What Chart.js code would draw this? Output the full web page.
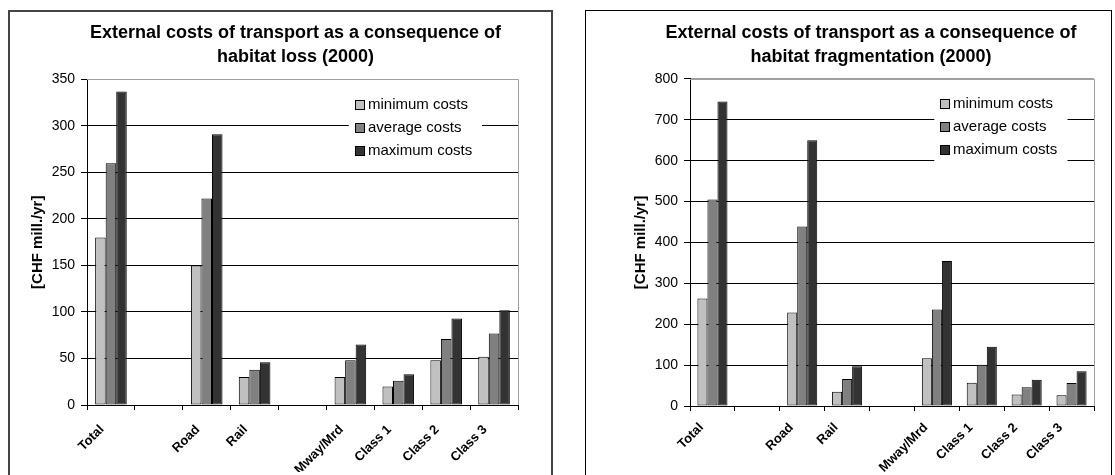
<!DOCTYPE html>
<html>
<head>
<meta charset="utf-8">
<title>External costs of transport - habitat loss and fragmentation</title>
<script src="https://cdn.jsdelivr.net/npm/chart.js@4.4.1/dist/chart.umd.min.js"></script>
<style>
  html, body { margin: 0; padding: 0; background: #fff; overflow: hidden; }
  body { width: 1115px; height: 475px; position: relative; }
  .frame { position: absolute; box-sizing: border-box; }
  #frameLoss { left: 8px; top: 10px; width: 545px; height: 490px; border: 2px solid #444; }
  #frameFrag { left: 585px; top: 10px; width: 527px; height: 490px; border: 1px solid #000; }
  canvas { position: absolute; }
  #lossChart { left: 20px; top: 12px; }
  #fragChart { left: 628px; top: 12px; }
</style>
</head>
<body>
<div class="frame" id="frameLoss"></div>
<div class="frame" id="frameFrag"></div>
<canvas id="lossChart" width="551" height="460"></canvas>
<canvas id="fragChart" width="486" height="460"></canvas>
<script>
// categories (blank slots separate the groups)
var categories = ['Total', '', 'Road', 'Rail', '', 'Mway/Mrd', 'Class 1', 'Class 2', 'Class 3'];
var seriesNames = ['minimum costs', 'average costs', 'maximum costs'];

// habitat loss, CHF mill./yr
var lossMin = [180, null, 150, 30, null, 30, 20, 48, 52];
var lossAvg = [260, null, 222, 38, null, 48, 26, 71, 77];
var lossMax = [337, null, 291, 46, null, 65, 33, 93, 102];

// habitat fragmentation, CHF mill./yr
var fragMin = [263, null, 229, 35, null, 117, 57, 28, 26];
var fragAvg = [505, null, 439, 66, null, 236, 101, 46, 56];
var fragMax = [745, null, 650, 97, null, 355, 145, 64, 85];

var lossTitle = ['External costs of transport as a consequence of', 'habitat loss (2000)'];
var fragTitle = ['External costs of transport as a consequence of', 'habitat fragmentation (2000)'];
var yTitle = '[CHF mill./yr]';

var FONT = '"Liberation Sans", Arial, sans-serif';
var fills = ['#c0c0c0', '#808080', '#333333'];

// grey top and right edge of the plot area
var plotFrame = {
  id: 'plotFrame',
  beforeDatasetsDraw: function(chart) {
    var a = chart.chartArea, ctx = chart.ctx;
    var t = Math.round(a.top) + 0.5, r = Math.round(a.right) + 0.5;
    ctx.save();
    ctx.strokeStyle = '#a0a0a0';
    ctx.lineWidth = 1;
    ctx.beginPath();
    ctx.moveTo(a.left, t);
    ctx.lineTo(r, t);
    ctx.lineTo(r, a.bottom);
    ctx.stroke();
    ctx.restore();
  }
};

// legend drawn inside the plot, on a white patch over the grid
var boxLegend = {
  id: 'boxLegend',
  afterDatasetsDraw: function(chart, args, opts) {
    var a = chart.chartArea, ctx = chart.ctx;
    var sets = chart.data.datasets;
    ctx.save();
    ctx.font = '15px ' + FONT;
    var textW = 0;
    sets.forEach(function(ds) { textW = Math.max(textW, ctx.measureText(ds.label).width); });
    var w = 6 + 10 + 3 + textW + 10;
    var right = a.right - opts.rightGap;
    var left = right - w;
    var top = a.top + opts.firstRow - 12;
    ctx.fillStyle = '#fff';
    ctx.fillRect(left, top, w, sets.length * 23 + 1);
    sets.forEach(function(ds, i) {
      var cy = a.top + opts.firstRow + i * 23;
      var sx = Math.round(left + 6);
      var sy = Math.round(cy - 5);
      ctx.fillStyle = ds.backgroundColor;
      ctx.fillRect(sx, sy, 10, 10);
      ctx.strokeStyle = '#000';
      ctx.lineWidth = 1;
      ctx.strokeRect(sx + 0.5, sy + 0.5, 9, 9);
      ctx.fillStyle = '#000';
      ctx.textBaseline = 'middle';
      ctx.textAlign = 'left';
      ctx.fillText(ds.label, sx + 13, cy);
    });
    ctx.restore();
  }
};

function makeChart(id, title, series, yMax, yStep, lay) {
  return new Chart(document.getElementById(id).getContext('2d'), {
    type: 'bar',
    data: {
      labels: categories,
      datasets: series.map(function(values, i) {
        return {
          label: seriesNames[i],
          data: values,
          backgroundColor: fills[i],
          borderColor: '#000',
          borderWidth: 1,
          borderSkipped: false,
          categoryPercentage: lay.catPct,
          barPercentage: 1
        };
      })
    },
    options: {
      responsive: false,
      animation: false,
      devicePixelRatio: 1,
      layout: { padding: 0 },
      plugins: {
        legend: { display: false },
        tooltip: { enabled: false },
        title: {
          display: true,
          text: title,
          color: '#000',
          font: { family: FONT, size: 18, weight: 'bold', lineHeight: 1.3333 },
          padding: { top: 9, bottom: lay.titleGap }
        },
        boxLegend: { rightGap: lay.legendGap, firstRow: lay.legendRow }
      },
      scales: {
        x: {
          grid: { display: true, drawOnChartArea: false, offset: true, color: '#000', tickLength: 5 },
          border: { color: '#000', width: 1 },
          ticks: {
            color: '#000',
            font: { family: FONT, size: 13, weight: 'bold' },
            minRotation: 45,
            maxRotation: 45,
            autoSkip: false,
            padding: lay.labelPad,
            labelOffset: lay.labelShift
          },
          afterFit: function(s) { s.height = lay.xHeight; }
        },
        y: {
          min: 0,
          max: yMax,
          ticks: {
            stepSize: yStep,
            color: '#000',
            font: { family: FONT, size: 14 },
            padding: 6
          },
          grid: {
            color: function(c) { return c.tick && c.tick.value === yMax ? '#a0a0a0' : '#000'; },
            tickColor: '#000',
            tickLength: 6
          },
          border: { color: '#000', width: 1 },
          title: {
            display: true,
            text: yTitle,
            color: '#000',
            font: { family: FONT, size: 15, weight: 'bold' },
            padding: { top: lay.yTitlePad, bottom: 0 }
          },
          afterFit: function(s) { s.width = lay.yWidth; }
        },
        // empty right-hand spacer so the title centres over the whole frame
        spacer: {
          type: 'linear',
          position: 'right',
          display: true,
          grid: { display: false },
          border: { display: false },
          ticks: { display: false },
          afterFit: function(s) { s.width = lay.rightWidth; }
        }
      }
    },
    plugins: [plotFrame, boxLegend]
  });
}

makeChart('lossChart', lossTitle, [lossMin, lossAvg, lossMax], 350, 50, {
  catPct: 0.66, titleGap: 10.5, xHeight: 67, yWidth: 67, rightWidth: 53,
  yTitlePad: 8.5, legendGap: 36, legendRow: 25.5, labelPad: 12, labelShift: -9
});

makeChart('fragChart', fragTitle, [fragMin, fragAvg, fragMax], 800, 100, {
  catPct: 0.67, titleGap: 10, xHeight: 66, yWidth: 62, rightWidth: 20,
  yTitlePad: 4, legendGap: 26.5, legendRow: 25, labelPad: 9, labelShift: -11
});
</script>
</body>
</html>
